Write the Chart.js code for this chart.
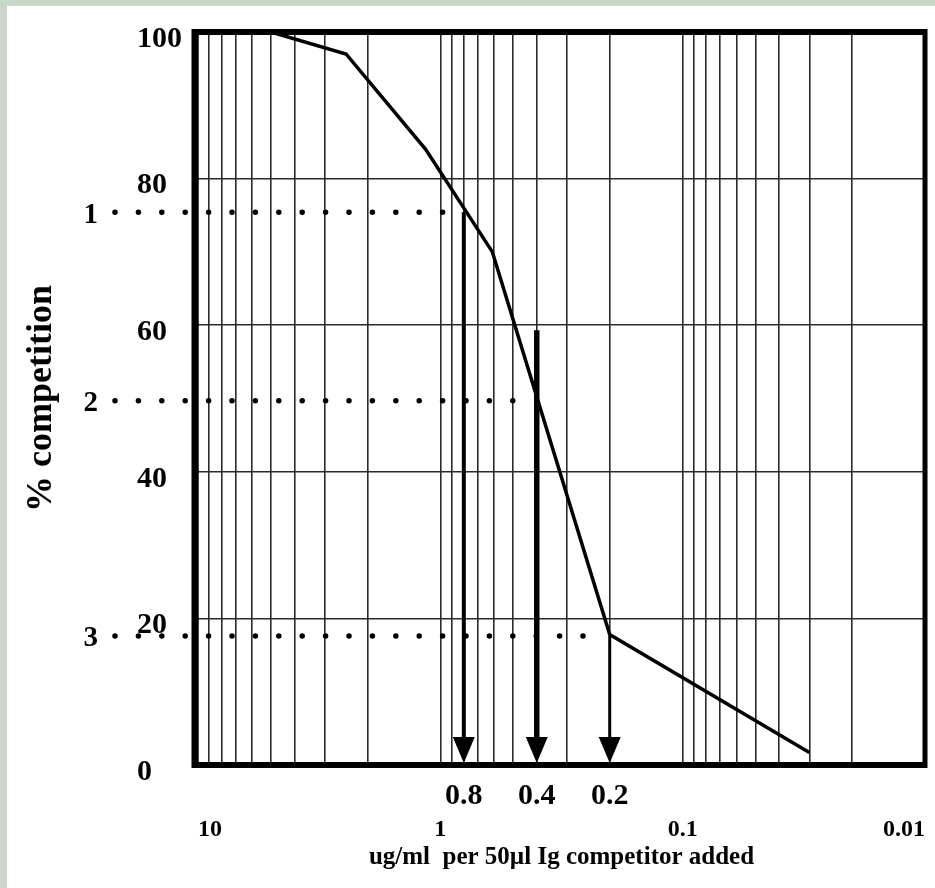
<!DOCTYPE html>
<html>
<head>
<meta charset="utf-8">
<script src="https://cdn.jsdelivr.net/npm/chart.js@4.4.1/dist/chart.umd.min.js"></script>
<style>
  html, body { margin: 0; padding: 0; background: #c9d7c9; }
  #wrap { position: absolute; left: 7px; top: 6px; width: 928px; height: 882px; background: #fff; }
</style>
</head>
<body>
<div id="wrap"><canvas id="curve" width="928" height="882"></canvas></div>
<script>
// competition curve
const concentration = [5, 2.45, 1.15, 0.61, 0.2, 0.03];
const competition = [100, 97, 84, 70, 17.8, 1.7];

// log grid + labelled decades
const gridValues = [
  0.01, 0.02, 0.03, 0.04, 0.05, 0.06, 0.07, 0.08, 0.09,
  0.1, 0.2, 0.3, 0.4, 0.5, 0.6, 0.7, 0.8, 0.9,
  1, 2, 3, 4, 5, 6, 7, 8, 9, 10
];
const decadeTicks = [10, 1, 0.1, 0.01];
const decadeLabels = ['10', '1', '0.1', '0.01'];

// arrows dropped to the axis
const arrowDoses = [0.8, 0.4, 0.2];
const arrowLabels = ['0.8', '0.4', '0.2'];
const arrowTops = [75.4, 59.3, 17.6];

// dotted read-off levels
const guideLevels = [75.4, 49.7, 17.6];
const guideLabels = ['1', '2', '3'];

const serif = '"Liberation Serif", "Times New Roman", serif';
const near = (a, b) => Math.abs(a - b) < 1e-9;

const annotate = {
  id: 'annotate',
  afterDatasetsDraw(chart) {
    const { ctx, chartArea: a, scales: { x, y } } = chart;
    const base = y.getPixelForValue(0);
    ctx.save();
    ctx.fillStyle = '#000';
    ctx.strokeStyle = '#000';

    // dotted guides + their numbers
    ctx.lineWidth = 5.5;
    ctx.lineCap = 'round';
    ctx.setLineDash([0, 23.4]);
    guideLevels.forEach((lv, i) => {
      const py = y.getPixelForValue(lv);
      ctx.beginPath();
      ctx.moveTo(a.left - 83, py);
      ctx.lineTo(x.getPixelForValue(arrowDoses[i]) - 6, py);
      ctx.stroke();
    });
    ctx.setLineDash([]);
    ctx.lineCap = 'butt';
    ctx.font = 'bold 29px ' + serif;
    ctx.textAlign = 'right';
    ctx.textBaseline = 'middle';
    guideLabels.forEach((t, i) => {
      ctx.fillText(t, a.left - 100, y.getPixelForValue(guideLevels[i]) + 3);
    });

    // arrows
    const shaft = [4, 5.5, 3];
    arrowDoses.forEach((d, i) => {
      const px = x.getPixelForValue(d);
      ctx.lineWidth = shaft[i];
      ctx.beginPath();
      ctx.moveTo(px, y.getPixelForValue(arrowTops[i]));
      ctx.lineTo(px, base - 20);
      ctx.stroke();
      ctx.beginPath();
      ctx.moveTo(px - 11, base - 28);
      ctx.lineTo(px + 11, base - 28);
      ctx.lineTo(px, base - 2);
      ctx.closePath();
      ctx.fill();
    });
    ctx.restore();
  },
  afterDraw(chart) {
    const { ctx, chartArea: a } = chart;
    ctx.save();
    ctx.strokeStyle = '#000';
    const side = (w, x1, y1, x2, y2) => {
      ctx.lineWidth = w;
      ctx.beginPath();
      ctx.moveTo(x1, y1);
      ctx.lineTo(x2, y2);
      ctx.stroke();
    };
    side(6, a.left - 6, a.top, a.right + 2, a.top);
    side(6, a.left - 6, a.bottom, a.right + 2, a.bottom);
    side(7, a.left - 3, a.top - 3, a.left - 3, a.bottom + 3);
    side(5, a.right, a.top - 3, a.right, a.bottom + 3);
    ctx.restore();
  }
};

new Chart(document.getElementById('curve'), {
  type: 'line',
  data: {
    datasets: [{
      data: concentration.map((c, i) => ({ x: c, y: competition[i] })),
      borderColor: '#000',
      borderWidth: 3.5,
      pointRadius: 0,
      tension: 0,
      fill: false
    }]
  },
  options: {
    responsive: false,
    animation: false,
    layout: { padding: { left: 13, right: 10, top: 26, bottom: 15 } },
    plugins: { legend: { display: false }, tooltip: { enabled: false } },
    scales: {
      x: {
        type: 'logarithmic',
        position: 'bottom',
        reverse: true,
        min: 0.01,
        max: 10,
        weight: 1,
        afterBuildTicks: s => { s.ticks = gridValues.map(v => ({ value: v })); },
        afterFit: s => { s.height = 63; s.paddingLeft = 0; s.paddingRight = 0; },
        grid: { color: '#2a2a2a', lineWidth: 1.6, drawTicks: false },
        border: { display: false },
        ticks: {
          autoSkip: false,
          maxRotation: 0,
          align: 'inner',
          padding: 5,
          color: '#000',
          font: { family: serif, size: 24, weight: 'bold' },
          callback: v => {
            const k = decadeTicks.findIndex(d => near(d, v));
            return k < 0 ? '' : decadeLabels[k];
          }
        },
        title: {
          display: true,
          text: 'ug/ml  per 50µl Ig competitor added',
          color: '#000',
          font: { family: serif, size: 25, weight: 'bold' },
          padding: { top: 0, bottom: 0 }
        }
      },
      x2: {
        type: 'logarithmic',
        position: 'bottom',
        reverse: true,
        min: 0.01,
        max: 10,
        weight: 0,
        afterBuildTicks: s => { s.ticks = arrowDoses.map(v => ({ value: v })); },
        afterFit: s => { s.height = 45; s.paddingLeft = 0; s.paddingRight = 0; },
        grid: { display: false, drawTicks: false },
        border: { display: false },
        ticks: {
          autoSkip: false,
          maxRotation: 0,
          padding: 13,
          color: '#000',
          font: { family: serif, size: 30, weight: 'bold' },
          callback: v => {
            const k = arrowDoses.findIndex(d => near(d, v));
            return k < 0 ? '' : arrowLabels[k];
          }
        }
      },
      y: {
        min: 0,
        max: 100,
        weight: 0,
        afterFit: s => { s.width = 61; s.paddingTop = 0; s.paddingBottom = 0; },
        grid: { color: '#2a2a2a', lineWidth: 1.6, drawTicks: false },
        border: { display: false },
        ticks: {
          stepSize: 20,
          crossAlign: 'far',
          padding: 10,
          labelOffset: 7,
          color: '#000',
          font: { family: serif, size: 30, weight: 'bold' }
        }
      },
      yTitle: {
        type: 'linear',
        position: 'left',
        weight: 1,
        afterFit: s => { s.width = 117; },
        grid: { display: false, drawTicks: false },
        border: { display: false },
        ticks: { display: false },
        title: {
          display: true,
          text: '% competition',
          color: '#000',
          font: { family: serif, size: 36, weight: 'bold' },
          padding: { top: 0, bottom: 0 }
        }
      }
    }
  },
  plugins: [annotate]
});
</script>
</body>
</html>
